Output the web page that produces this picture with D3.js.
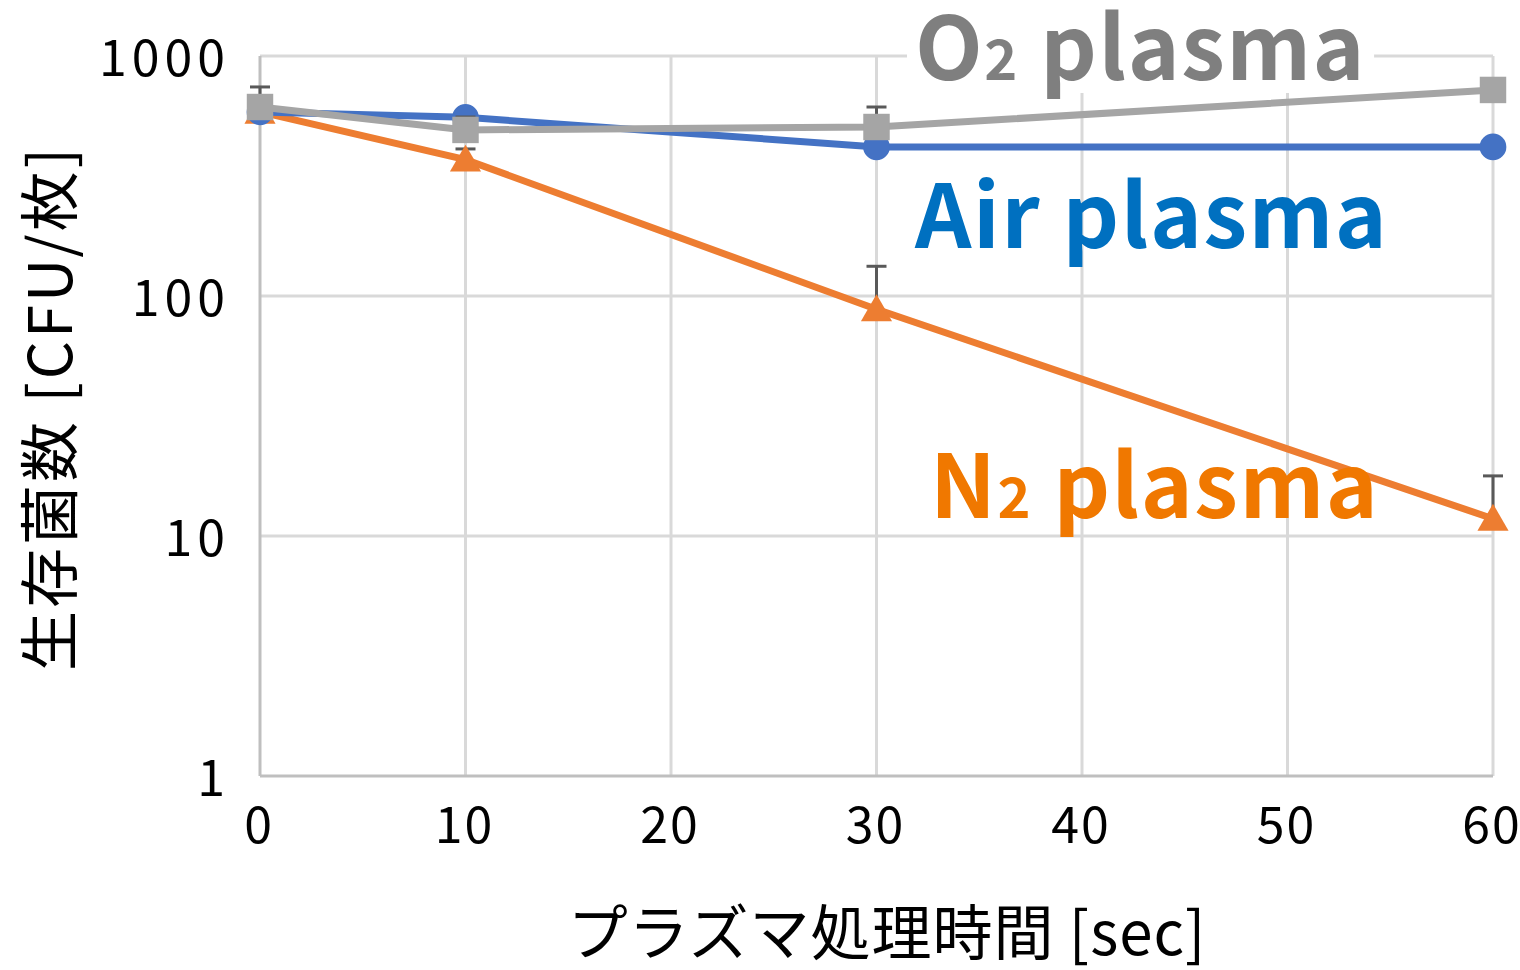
<!DOCTYPE html>
<html>
<head>
<meta charset="utf-8">
<script src="https://cdn.jsdelivr.net/npm/d3@7"></script>
<style>
  html, body { margin: 0; padding: 0; background: #fff; }
  svg { display: block; }
</style>
</head>
<body>
<svg id="chart" width="1520" height="970"></svg>
<script>
// Treatment times (sec)
const times = [0, 10, 30, 60];

// Surviving bacteria counts [CFU/sheet] per plasma gas
const airValues = [585, 555, 418, 418];
const n2Values  = [585, 370, 88, 11.8];
const o2Values  = [613, 492, 506, 722];

// Upper error bar tops (mean + SD)
const airErrTop = [600, 575, 430, 430];
const n2ErrTop  = [600, 410, 133, 17.8];
const o2ErrTop  = [743, 557, 613, 740];

// Axis ticks
const xTicks = [0, 10, 20, 30, 40, 50, 60];
const yTicks = [1, 10, 100, 1000];
const yTickLabels = ["1", "10", "100", "1000"];

const svg = d3.select("#chart");
const fontJP = "'Noto Sans CJK JP', 'Noto Sans', sans-serif";

const x = d3.scaleLinear().domain([0, 60]).range([260, 1493]);
const y = d3.scaleLog().domain([1, 1000]).range([776, 56]);

// Gridlines
const grid = svg.append("g");
grid.selectAll("line.h").data(yTicks.slice(1)).join("line")
  .attr("x1", x(0)).attr("x2", x(60))
  .attr("y1", d => y(d)).attr("y2", d => y(d))
  .attr("stroke", "#d9d9d9").attr("stroke-width", 3);
grid.selectAll("line.v").data(xTicks.slice(1)).join("line")
  .attr("x1", d => x(d)).attr("x2", d => x(d))
  .attr("y1", y(1000)).attr("y2", y(1))
  .attr("stroke", "#d9d9d9").attr("stroke-width", 3);

// Axis lines
svg.append("line").attr("x1", x(0)).attr("x2", x(0)).attr("y1", y(1000)).attr("y2", y(1))
  .attr("stroke", "#bfbfbf").attr("stroke-width", 3);
svg.append("line").attr("x1", x(0)).attr("x2", x(60)).attr("y1", y(1)).attr("y2", y(1))
  .attr("stroke", "#bfbfbf").attr("stroke-width", 3);

// Tick labels
svg.append("g").selectAll("text").data(yTicks).join("text")
  .attr("x", 230).attr("y", d => y(d) + 2).attr("dy", "0.36em")
  .attr("text-anchor", "end")
  .attr("font-family", fontJP).attr("font-size", 50).attr("letter-spacing", 5).attr("fill", "#000")
  .text((d, i) => yTickLabels[i]);

svg.append("g").selectAll("text").data(xTicks).join("text")
  .attr("x", d => x(d) - 1).attr("y", 825).attr("dy", "0.36em")
  .attr("text-anchor", "middle")
  .attr("font-family", fontJP).attr("font-size", 50).attr("letter-spacing", 2).attr("fill", "#000")
  .text(d => d);

// Axis titles
svg.append("text")
  .attr("transform", "translate(50,408) rotate(-90)")
  .attr("dy", "0.36em")
  .attr("text-anchor", "middle")
  .attr("font-family", fontJP).attr("font-size", 60).attr("letter-spacing", 3).attr("fill", "#000")
  .text("生存菌数 [CFU/枚]");

svg.append("text")
  .attr("x", 887).attr("y", 933).attr("dy", "0.36em")
  .attr("text-anchor", "middle")
  .attr("font-family", fontJP).attr("font-size", 60).attr("letter-spacing", 1).attr("fill", "#000")
  .text("プラズマ処理時間 [sec]");

// Series
const series = [
  { name: "N2", values: n2Values, err: n2ErrTop, color: "#ed7d31", marker: "triangle" },
  { name: "Air", values: airValues, err: airErrTop, color: "#4472c4", marker: "circle" },
  { name: "O2", values: o2Values, err: o2ErrTop, color: "#a5a5a5", marker: "square" }
];

const line = d3.line().x(d => x(d.t)).y(d => y(d.v));

series.forEach(s => {
  const pts = times.map((t, i) => ({ t, v: s.values[i], e: s.err[i] }));
  const g = svg.append("g");
  // upper error bars
  g.selectAll("line.err").data(pts).join("line")
    .attr("x1", d => x(d.t)).attr("x2", d => x(d.t))
    .attr("y1", d => y(d.v)).attr("y2", d => y(d.e))
    .attr("stroke", "#595959").attr("stroke-width", 3);
  g.selectAll("line.cap").data(pts).join("line")
    .attr("x1", d => x(d.t) - 10).attr("x2", d => x(d.t) + 10)
    .attr("y1", d => y(d.e)).attr("y2", d => y(d.e))
    .attr("stroke", "#595959").attr("stroke-width", 3);
  g.append("path").datum(pts)
    .attr("d", line).attr("fill", "none")
    .attr("stroke", s.color).attr("stroke-width", 7);
  const sym = s.marker === "circle" ? d3.symbolCircle : s.marker === "square" ? d3.symbolSquare : d3.symbolTriangle;
  const size = s.marker === "circle" ? 560 : s.marker === "square" ? 700 : 420;
  g.selectAll("path.m").data(pts).join("path")
    .attr("transform", d => `translate(${x(d.t)},${y(d.v) + (s.marker === "triangle" ? 3 : 0)})`)
    .attr("d", d3.symbol().type(sym).size(size))
    .attr("fill", s.color);
});

// Series labels
const labels = svg.append("g");
function label(xp, yp, parts, color, bg) {
  const lg = labels.append("g");
  const t = lg.append("text")
    .attr("x", xp).attr("y", yp)
    .attr("font-family", fontJP).attr("font-weight", "bold")
    .attr("font-size", 88).attr("letter-spacing", 1.5).attr("fill", color);
  parts.forEach(p => t.append("tspan").attr("font-size", p.size).text(p.text));
  if (bg) {
    const b = t.node().getBBox();
    lg.insert("rect", "text")
      .attr("x", b.x - 8).attr("y", b.y + 12).attr("width", b.width + 16).attr("height", b.height - 24)
      .attr("fill", "#fff");
  }
}
label(915, 80, [{ text: "O", size: 88 }, { text: "2", size: 56 }, { text: " plasma", size: 88 }], "#7f7f7f", true);
label(915, 248, [{ text: "Air plasma", size: 88 }], "#0070c0", false);
label(930, 518, [{ text: "N", size: 88 }, { text: "2", size: 56 }, { text: " plasma", size: 88 }], "#f07800", false);
</script>
</body>
</html>
